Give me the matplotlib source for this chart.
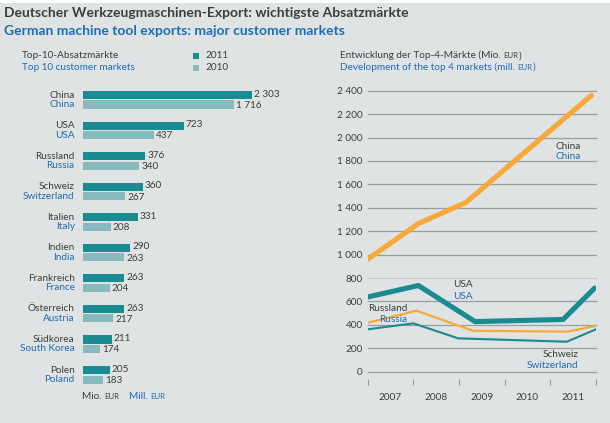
import matplotlib
matplotlib.use("Agg")
from matplotlib import pyplot as plt
from matplotlib.patches import Rectangle

plt.rcParams['font.family'] = ['Lato', 'DejaVu Sans']

# top 10 customer markets (mill. EUR)
markets_de = ["China", "USA", "Russland", "Schweiz", "Italien", "Indien",
              "Frankreich", "Österreich", "Südkorea", "Polen"]
markets_en = ["China", "USA", "Russia", "Switzerland", "Italy", "India",
              "France", "Austria", "South Korea", "Poland"]
val_2011 = [2303, 723, 376, 360, 331, 290, 263, 263, 211, 205]
val_2010 = [1716, 437, 340, 267, 208, 263, 204, 217, 174, 183]

# development of the top 4 markets, vertices
years = [2007, 2008, 2009, 2010, 2011]
china_x = [2007.0, 2008.11, 2009.15, 2011.9]
china_y = [960, 1265, 1445, 2360]
usa_x = [2007.0, 2008.11, 2009.35, 2011.28, 2011.97]
usa_y = [638, 736, 428, 446, 714]
russia_x = [2007.0, 2008.07, 2009.3, 2011.37, 2012.0]
russia_y = [418, 521, 350, 342, 392]
swiss_x = [2007.0, 2008.0, 2008.98, 2011.36, 2012.0]
swiss_y = [362, 413, 285, 256, 362]

BG = '#e0e3e4'
DARK = '#3d3d3d'
BLUE = '#1f6db5'
TEAL = '#198b91'
TEAL_L = '#88b9bd'
ORANGE = '#f7a93a'
W, H = 610, 423
FS = 7.2


def box(l, t, r, b):
    return [l / W, 1 - b / H, (r - l) / W, (b - t) / H]


def ftext(x, y, s, **kw):
    return fig.text(x / W, 1 - y / H, s, va='baseline', **kw)


def eur(x, y, pre, post, color):
    # "EUR" is set in small caps, so it gets its own smaller text
    r = fig.canvas.get_renderer()
    for s, size in [(pre, FS), ("EUR", FS * 0.78), (post, FS)]:
        if not s:
            continue
        t = ftext(x, y, s, color=color, fontsize=size)
        x = t.get_window_extent(r).x1 + 0.3


fig = plt.figure(figsize=(6.1, 4.23), dpi=100)
fig.patch.set_facecolor(BG)
fig.add_artist(Rectangle((0, 1 - 3 / H), 1, 3 / H, transform=fig.transFigure,
                         color='white', lw=0))

# header
ftext(4, 16.7, "Deutscher Werkzeugmaschinen-Export: wichtigste Absatzmärkte",
      color=DARK, fontsize=10, fontweight='bold')
ftext(4, 35, "German machine tool exports: major customer markets",
      color=BLUE, fontsize=10, fontweight='bold')
ftext(22, 58.3, "Top-10-Absatzmärkte", color=DARK, fontsize=FS)
ftext(22, 70, "Top 10 customer markets", color=BLUE, fontsize=FS)
for yy, lab, col in [(59, "2011", TEAL), (71, "2010", TEAL_L)]:
    fig.add_artist(Rectangle((193 / W, 1 - yy / H), 6 / W, 6 / H,
                             transform=fig.transFigure, color=col, lw=0))
    ftext(205, yy - 0.7, lab, color=DARK, fontsize=FS)

# left panel: bars on a compressed (log) scale
ax = fig.add_axes(box(82.7, 84.5, 300, 390.1))
ax.set_facecolor('none')
base = 129
ax.set_xscale('log')
ax.set_xlim(base, 5268)
ax.set_ylim(9.5, -0.5)
off = 0.155
hgt = 0.265
pos = list(range(len(markets_de)))
ax.barh([p - off for p in pos], [v - base for v in val_2011], left=base,
        height=hgt, color=TEAL)
ax.barh([p + off for p in pos], [v - base for v in val_2010], left=base,
        height=hgt, color=TEAL_L)
ytr = ax.get_yaxis_transform()
for p, de, en, a, b in zip(pos, markets_de, markets_en, val_2011, val_2010):
    ax.annotate(de, xy=(0, p - off), xycoords=ytr, xytext=(-5.8, 0),
                textcoords='offset points', ha='right', va='center',
                color=DARK, fontsize=FS)
    ax.annotate(en, xy=(0, p + off), xycoords=ytr, xytext=(-5.8, 0),
                textcoords='offset points', ha='right', va='center',
                color=BLUE, fontsize=FS)
    ax.annotate(f"{a:,}".replace(",", " "), xy=(a, p - off - 0.03),
                xytext=(1.5, 0), textcoords='offset points', ha='left',
                va='center', color=DARK, fontsize=FS, annotation_clip=False)
    ax.annotate(f"{b:,}".replace(",", " "), xy=(b, p + off + 0.03),
                xytext=(1.5, 0), textcoords='offset points', ha='left',
                va='center', color=DARK, fontsize=FS, annotation_clip=False)
ax.axis('off')

eur(82, 399, "Mio. ", None, DARK)
eur(129, 399, "Mill. ", None, BLUE)

# right panel header
eur(340, 58.3, "Entwicklung der Top-4-Märkte (Mio. ", ")", DARK)
eur(340, 70, "Development of the top 4 markets (mill. ", ")", BLUE)

# right panel: lines
ax2 = fig.add_axes(box(367.7, 90.7, 596, 371.7))
ax2.set_facecolor('none')
ax2.set_xlim(2007, 2012)
ax2.set_ylim(0, 2400)
for v in range(0, 2401, 200):
    ax2.axhline(v, color='#c4c6c7' if v == 800 else '#9a9c9d', lw=0.9,
                zorder=1, clip_on=False)
ax2.plot(swiss_x, swiss_y, color=TEAL, lw=1.5, zorder=3)
ax2.plot(russia_x, russia_y, color=ORANGE, lw=1.6, zorder=3)
ax2.plot(usa_x, usa_y, color=TEAL, lw=3.7, zorder=4, solid_capstyle='round')
ax2.plot(china_x, china_y, color=ORANGE, lw=3.7, zorder=4,
         solid_capstyle='round')
for s in ax2.spines.values():
    s.set_visible(False)
ax2.spines['bottom'].set_position(('outward', 5))
ax2.set_yticks(range(0, 2401, 200))
ax2.set_yticklabels([f"{v:,}".replace(",", " ") for v in range(0, 2401, 200)])
ax2.tick_params(axis='y', length=0, pad=3.4, labelsize=FS, labelcolor=DARK)
ax2.set_xticks(years + [2012])
ax2.set_xticklabels([])
ax2.tick_params(axis='x', which='major', length=4, width=0.8,
                color='#9a9c9d', direction='out')
ax2.set_xticks([y + 0.5 for y in years], minor=True)
ax2.set_xticklabels([str(y) for y in years], minor=True)
ax2.tick_params(axis='x', which='minor', length=0, pad=10, labelsize=FS,
                labelcolor=DARK)

lbl = dict(fontsize=FS, va='center')
ax2.text(2011.12, 1927, "China", color=DARK, **lbl)
ax2.text(2011.12, 1834, "China", color=BLUE, **lbl)
ax2.text(2008.87, 749, "USA", color=DARK, **lbl)
ax2.text(2008.87, 646, "USA", color=BLUE, **lbl)
ax2.text(2007.0, 544, "Russland", color=DARK, **lbl)
ax2.text(2007.25, 450, "Russia", color=BLUE, **lbl)
ax2.text(2011.62, 151, "Schweiz", color=DARK, ha='right', **lbl)
ax2.text(2011.62, 57, "Switzerland", color=BLUE, ha='right', **lbl)

fig.savefig("out.png", dpi=100, facecolor=BG)
